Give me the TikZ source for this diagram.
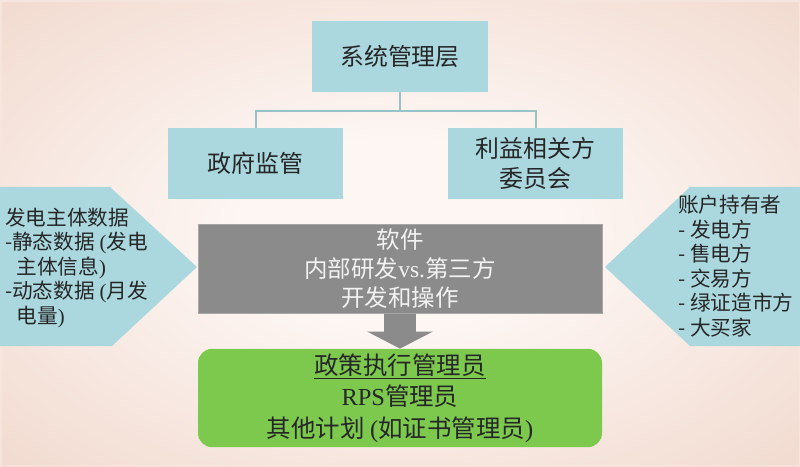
\documentclass[tikz,border=0pt]{standalone}
\usepackage{fontspec}
\setmainfont{Noto Sans CJK SC}
\newfontfamily\lat{Liberation Serif}
\usetikzlibrary{arrows.meta}

\definecolor{boxblue}{HTML}{AAD8DE}
\definecolor{softgray}{HTML}{8C8B8C}
\definecolor{adminGreen}{HTML}{7DC94E}
\definecolor{bgin}{HTML}{FDF6F3}
\definecolor{bgedge}{HTML}{EBCBBB}
\definecolor{bgcorner}{HTML}{E3BEAA}
\definecolor{ink}{HTML}{262626}
\pgfdeclareradialshading{glow}{\pgfpoint{0bp}{0bp}}{color(0bp)=(bgin); color(10bp)=(bgin); color(50bp)=(bgedge); color(72bp)=(bgcorner)}

\begin{document}
\begin{tikzpicture}[
		bluebox/.style={fill=boxblue, text=ink, minimum width=4.4cm, minimum height=1.775cm, align=center, font=\fontsize{17}{21}\selectfont},
		link/.style={draw=boxblue!90!black, line width=1.4pt},
		listtext/.style={text=ink, inner sep=0pt, align=left, font=\fontsize{14.7}{17.4}\selectfont}]
				\useasboundingbox (0,0) rectangle (20,11.65);
				\shade[shading=glow] (0,0) rectangle (20,11.65);
				\draw[bgin!60!bgedge, line width=1pt] (0.02,0.02) rectangle (19.98,11.63);
				% management tree
				\node[bluebox] (sys) at (10,10.24) {系统管理层};
				\node[bluebox, minimum width=4.375cm] (gov) at (6.39,7.5625) {政府监管};
				\node[bluebox, minimum width=4.375cm] (stake) at (13.39,7.5625) {利益相关方\\委员会};
				\draw[link] (sys.south) -- ++(0,-0.475) coordinate (split);
				\draw[link] (split) -| (gov.north);
				\draw[link] (split) -| (stake.north);
				% side inputs
				\fill[boxblue] (0,6.975) -- (2.75,6.975) -- (4.925,4.975) -- (2.8,3.0) -- (0,3.0) -- cycle;
				\fill[boxblue] (20,6.975) -- (17.25,6.975) -- (15.125,4.975) -- (17.25,3.0) -- (20,3.0) -- cycle;
				\node[listtext, anchor=west] (gen) at (0.12,4.96) {发电主体数据\\-静态数据 {\lat(}发电\\\hspace{0.55em}主体信息{\lat)}\\-动态数据 {\lat(}月发\\\hspace{0.55em}电量{\lat)}};
				\node[listtext, anchor=west] (acct) at (16.95,5.0) {账户持有者\\- 发电方\\- 售电方\\- 交易方\\- 绿证造市方\\- 大买家};
				% software and administrator
				\node[fill=softgray, draw=softgray!75!white, text=white!95!black, minimum width=10.1cm, minimum height=2.15cm, align=center, font=\fontsize{16.7}{20.6}\selectfont] (soft) at (10,4.925) {软件\\内部研发{\lat vs.}第三方\\开发和操作};
				\node[fill=adminGreen, rounded corners=0.35cm, text=ink, minimum width=10.1cm, minimum height=2.4cm, align=center, font=\fontsize{17.4}{22.4}\selectfont] (admin) at (10,1.7) {\underline{政策执行管理员}\\{\lat RPS}管理员\\其他计划 {\lat(}如证书管理员{\lat)}};
				\draw[softgray, line width=0.8cm, -{Triangle[width=1.625cm, length=0.425cm]}] (soft.south) -- (admin.north);
			\end{tikzpicture}
\end{document}
